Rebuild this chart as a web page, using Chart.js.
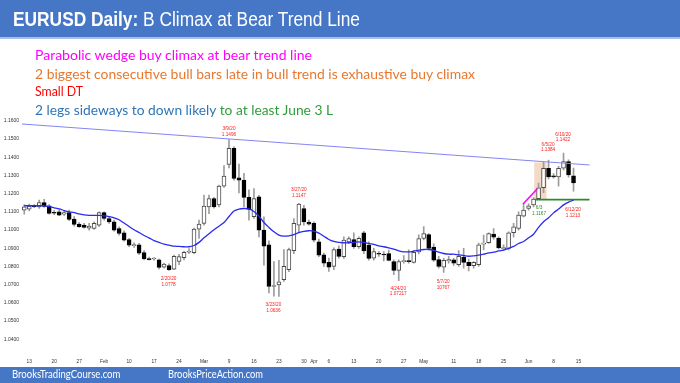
<!DOCTYPE html>
<html>
<head>
<meta charset="utf-8">
<script src="https://cdn.jsdelivr.net/npm/chart.js@4.4.1/dist/chart.umd.min.js"></script>
<style>
html,body{margin:0;padding:0;background:#fff;}
#wrap{position:relative;width:680px;height:383px;overflow:hidden;background:#fff;}
#chart{position:absolute;left:0;top:0;}
#titlebar{position:absolute;left:0;top:0;width:680px;height:37px;background:#4677C6;border-bottom:2px solid #A9BFE6;}
#footbar{position:absolute;left:0;top:367px;width:680px;height:16px;background:#4677C6;}
.t{position:absolute;white-space:nowrap;transform-origin:0 0;line-height:1;}
</style>
</head>
<body>
<div id="wrap">
  <div id="titlebar"></div>
  <div id="footbar"></div>
  <canvas id="chart" width="680" height="383"></canvas>
  <div class="t" id="title" style="font-family:'Liberation Sans',Arial,sans-serif;font-size:19.5px;color:#fff;"><b>EURUSD Daily:</b> B Climax at Bear Trend Line</div>
  <div class="t" id="n1" style="font-family:Lato,sans-serif;font-size:13px;color:#FF00FF;">Parabolic wedge buy climax at bear trend line</div>
  <div class="t" id="n2" style="font-family:Lato,sans-serif;font-size:13px;color:#E8782F;">2 biggest consecutive bull bars late in bull trend is exhaustive buy climax</div>
  <div class="t" id="n3" style="font-family:Lato,sans-serif;font-size:13px;color:#FF0000;">Small DT</div>
  <div class="t" id="n4" style="font-family:Lato,sans-serif;font-size:13px;color:#2E75B6;">2 legs sideways to down likely<span style="color:#2F9E3A;"> to at least June 3 L</span></div>
  <div class="t" id="f1" style="font-family:Lato,sans-serif;font-size:10.6px;color:#fff;">BrooksTradingCourse.com</div>
  <div class="t" id="f2" style="font-family:Lato,sans-serif;font-size:10.6px;color:#fff;">BrooksPriceAction.com</div>
</div>
<script>
// ---- data ----
const dates = ["2020-01-10","2020-01-13","2020-01-14","2020-01-15","2020-01-16","2020-01-17","2020-01-20","2020-01-21","2020-01-22","2020-01-23","2020-01-24","2020-01-27","2020-01-28","2020-01-29","2020-01-30","2020-01-31","2020-02-03","2020-02-04","2020-02-05","2020-02-06","2020-02-07","2020-02-10","2020-02-11","2020-02-12","2020-02-13","2020-02-14","2020-02-17","2020-02-18","2020-02-19","2020-02-20","2020-02-21","2020-02-24","2020-02-25","2020-02-26","2020-02-27","2020-02-28","2020-03-02","2020-03-03","2020-03-04","2020-03-05","2020-03-06","2020-03-09","2020-03-10","2020-03-11","2020-03-12","2020-03-13","2020-03-16","2020-03-17","2020-03-18","2020-03-19","2020-03-20","2020-03-23","2020-03-24","2020-03-25","2020-03-26","2020-03-27","2020-03-30","2020-03-31","2020-04-01","2020-04-02","2020-04-03","2020-04-06","2020-04-07","2020-04-08","2020-04-09","2020-04-10","2020-04-13","2020-04-14","2020-04-15","2020-04-16","2020-04-17","2020-04-20","2020-04-21","2020-04-22","2020-04-23","2020-04-24","2020-04-27","2020-04-28","2020-04-29","2020-04-30","2020-05-01","2020-05-04","2020-05-05","2020-05-06","2020-05-07","2020-05-08","2020-05-11","2020-05-12","2020-05-13","2020-05-14","2020-05-15","2020-05-18","2020-05-19","2020-05-20","2020-05-21","2020-05-22","2020-05-25","2020-05-26","2020-05-27","2020-05-28","2020-05-29","2020-06-01","2020-06-02","2020-06-03","2020-06-04","2020-06-05","2020-06-08","2020-06-09","2020-06-10","2020-06-11","2020-06-12"];

const opens = [1.1109,1.1115,1.1134,1.1127,1.1150,1.1133,1.1095,1.1100,1.1087,1.1096,1.1060,1.1032,1.1027,1.1010,1.1008,1.1027,1.1095,1.1063,1.1045,1.1008,1.0985,1.0948,1.0914,1.0918,1.0876,1.0842,1.0841,1.0836,1.0796,1.0805,1.0785,1.0827,1.0848,1.0878,1.0875,1.1005,1.1036,1.1127,1.1173,1.1137,1.1241,1.1360,1.1448,1.1287,1.1274,1.1179,1.1073,1.1182,1.0999,1.0919,1.0690,1.0698,1.0727,1.0782,1.0887,1.1027,1.1118,1.1043,1.1036,1.0935,1.0864,1.0822,1.0800,1.0895,1.0853,1.0934,1.0948,1.0908,1.0985,1.0917,1.0845,1.0870,1.0866,1.0870,1.0827,1.0778,1.0826,1.0828,1.0822,1.0880,1.0954,1.0975,1.0906,1.0837,1.0796,1.0830,1.0836,1.0810,1.0851,1.0822,1.0804,1.0809,1.0922,1.0930,1.0978,1.0954,1.0898,1.0899,1.0985,1.1008,1.1076,1.1118,1.1137,1.1172,1.1232,1.1338,1.1298,1.1292,1.1340,1.1375,1.1298];
const highs = [1.1140,1.1142,1.1140,1.1164,1.1168,1.1140,1.1108,1.1111,1.1104,1.1109,1.1073,1.1041,1.1036,1.1036,1.1045,1.1100,1.1100,1.1073,1.1054,1.1017,1.0996,1.0954,1.0930,1.0927,1.0887,1.0851,1.0849,1.0840,1.0818,1.0814,1.0862,1.0867,1.0884,1.0898,1.1010,1.1054,1.1192,1.1192,1.1180,1.1247,1.1353,1.1496,1.1458,1.1362,1.1311,1.1220,1.1228,1.1191,1.1072,1.0940,1.0827,1.0833,1.0892,1.0901,1.1063,1.1147,1.1136,1.1054,1.1045,1.0950,1.0873,1.0846,1.0902,1.0913,1.0963,1.0963,1.0985,1.0963,1.0993,1.0935,1.0900,1.0882,1.0882,1.0890,1.0836,1.0836,1.0860,1.0891,1.0887,1.0973,1.1019,1.0981,1.0924,1.0855,1.0845,1.0855,1.0845,1.0887,1.0900,1.0841,1.0827,1.0928,1.0972,1.0985,1.1008,1.0963,1.0918,1.0990,1.1036,1.1100,1.1147,1.1143,1.1178,1.1257,1.1372,1.1384,1.1310,1.1350,1.1422,1.1385,1.1340];
const lows = [1.1087,1.1105,1.1122,1.1118,1.1124,1.1087,1.1084,1.1078,1.1080,1.1051,1.1021,1.1014,1.1010,1.0999,1.1003,1.1018,1.1054,1.1036,1.0993,1.0972,1.0939,1.0908,1.0905,1.0864,1.0836,1.0835,1.0834,1.0787,1.0791,1.0778,1.0782,1.0809,1.0836,1.0872,1.0870,1.0954,1.1027,1.1090,1.1120,1.1127,1.1234,1.1341,1.1274,1.1203,1.1128,1.1054,1.1064,1.0962,1.0807,1.0654,1.0637,1.0636,1.0718,1.0771,1.0870,1.0990,1.1027,1.1027,1.0935,1.0853,1.0800,1.0773,1.0782,1.0846,1.0844,1.0926,1.0899,1.0899,1.0870,1.0835,1.0835,1.0855,1.0830,1.0830,1.0755,1.0722,1.0818,1.0818,1.0818,1.0868,1.0946,1.0890,1.0827,1.0791,1.0767,1.0818,1.0805,1.0800,1.0791,1.0776,1.0791,1.0800,1.0890,1.0927,1.0950,1.0896,1.0890,1.0890,1.0960,1.0999,1.1072,1.1109,1.1127,1.1167,1.1205,1.1280,1.1285,1.1240,1.1330,1.1290,1.1213];
const closes = [1.1127,1.1131,1.1128,1.1151,1.1130,1.1091,1.1092,1.1082,1.1095,1.1058,1.1030,1.1018,1.1014,1.1022,1.1036,1.1095,1.1063,1.1045,1.0999,1.0981,1.0944,1.0917,1.0920,1.0873,1.0842,1.0837,1.0843,1.0795,1.0813,1.0782,1.0855,1.0854,1.0877,1.0882,1.1005,1.1032,1.1131,1.1173,1.1127,1.1241,1.1296,1.1448,1.1283,1.1274,1.1179,1.1113,1.1173,1.0999,1.0911,1.0690,1.0695,1.0716,1.0800,1.0892,1.1036,1.1142,1.1045,1.1032,1.0944,1.0862,1.0818,1.0796,1.0892,1.0855,1.0944,1.0953,1.0908,1.0954,1.0885,1.0844,1.0882,1.0867,1.0863,1.0833,1.0778,1.0827,1.0828,1.0826,1.0877,1.0953,1.0981,1.0899,1.0834,1.0800,1.0833,1.0838,1.0818,1.0855,1.0822,1.0804,1.0822,1.0919,1.0928,1.0981,1.0960,1.0902,1.0902,1.0985,1.1018,1.1082,1.1109,1.1133,1.1170,1.1232,1.1338,1.1292,1.1292,1.1338,1.1375,1.1302,1.1258];
const ema20 = [1.1133,1.1133,1.1133,1.1133,1.1133,1.1128,1.1122,1.1116,1.1107,1.1100,1.1096,1.1088,1.1083,1.1080,1.1080,1.1080,1.1078,1.1074,1.1067,1.1056,1.1038,1.1019,1.1001,1.0986,1.0970,1.0957,1.0942,1.0932,1.0922,1.0917,1.0911,1.0910,1.0908,1.0908,1.0915,1.0932,1.0957,1.0979,1.1001,1.1021,1.1041,1.1074,1.1104,1.1115,1.1118,1.1116,1.1102,1.1076,1.1041,1.1014,1.0990,1.0972,1.0966,1.0968,1.0975,1.0985,1.0992,1.0996,1.0994,1.0983,1.0966,1.0948,1.0937,1.0932,1.0930,1.0930,1.0932,1.0935,1.0932,1.0926,1.0921,1.0913,1.0908,1.0902,1.0895,1.0886,1.0880,1.0880,1.0884,1.0889,1.0893,1.0893,1.0888,1.0878,1.0871,1.0867,1.0867,1.0863,1.0860,1.0856,1.0858,1.0862,1.0867,1.0874,1.0878,1.0885,1.0890,1.0899,1.0910,1.0926,1.0937,1.0957,1.0977,1.1014,1.1045,1.1067,1.1094,1.1115,1.1138,1.1153,1.1164];

// bear trend line, wedge line, June 3 low line (index, price)
const trendLine = [[-0.45,1.1582],[113.2,1.1357]];
const wedgeLine = [[99.9,1.1143],[102.7,1.1225]];
const june3Line = [[102.3,1.1167],[113.2,1.1167]];
const climaxBox = {from:1.1167, to:1.1369, center:103.37};

const yTicks = [1.04,1.05,1.06,1.07,1.08,1.09,1.10,1.11,1.12,1.13,1.14,1.15,1.16];
const xTickPos = [1,6,11,16,21,26,31,36,41,46,51,56,58,61,66,71,76,80,86,91,96,101,106,111];
const xTickLabels = ["13","20","27","Feb","10","17","24","Mar","9","16","23","30","Apr","6","13","20","27","May","11","18","25","Jun","8","15"];

const notes = [
  {lines:["3/9/20","1.1496"], i:41, p:1.1554, color:"#FF1A1A"},
  {lines:["3/27/20","1.1147"], i:55, p:1.1220, color:"#FF1A1A"},
  {lines:["3/23/20","1.0636"], i:49.9, p:1.0588, color:"#FF1A1A"},
  {lines:["2/20/20","1.0778"], i:28.9, p:1.0731, color:"#FF1A1A"},
  {lines:["4/24/20","1.07217"], i:74.9, p:1.0680, color:"#FF1A1A"},
  {lines:["5/7/20","10767"], i:83.9, p:1.0716, color:"#FF1A1A"},
  {lines:["6/5/20","1.1384"], i:104.9, p:1.1470, color:"#FF1A1A"},
  {lines:["6/10/20","1.1422"], i:107.9, p:1.1525, color:"#FF1A1A"},
  {lines:["6/3","1.1167"], i:103.1, p:1.1122, color:"#2E8B2E"},
  {lines:["6/12/20","1.1213"], i:109.9, p:1.1110, color:"#FF1A1A"}
];

// ---- build datasets ----
const bodies = opens.map((o,i)=>({x:i, y:[o, closes[i]]}));
const wicks = lows.map((l,i)=>({x:i, y:[l, highs[i]]}));
const bull = opens.map((o,i)=>closes[i] >= o);
const emaPts = ema20.map((v,i)=>({x:i, y:v}));
const toPts = a => a.map(p=>({x:p[0], y:p[1]}));

const notesPlugin = {
  id:'notes',
  afterDatasetsDraw(chart){
    const {ctx, scales:{x, y}} = chart;
    ctx.save();
    ctx.font = '4.7px "Liberation Sans", Arial, sans-serif';
    ctx.textAlign = 'center';
    ctx.textBaseline = 'middle';
    notes.forEach(n=>{
      ctx.fillStyle = n.color;
      const px = x.getPixelForValue(n.i), py = y.getPixelForValue(n.p);
      n.lines.forEach((t,k)=>ctx.fillText(t, px, py + k*5.7));
    });
    ctx.restore();
  }
};

new Chart(document.getElementById('chart'), {
  type:'bar',
  data:{datasets:[
    {type:'line', data:emaPts, borderColor:'#2A2AF0', borderWidth:1.3, pointRadius:0, tension:0.3, order:0},
    {type:'line', data:toPts(trendLine), borderColor:'#8484F4', borderWidth:1, pointRadius:0, order:0},
    {type:'line', data:toPts(wedgeLine), borderColor:'#FF00FF', borderWidth:1.6, pointRadius:0, order:0},
    {type:'line', data:toPts(june3Line), borderColor:'#2B8A2B', borderWidth:1.8, pointRadius:0, order:0},
    {data:bodies, backgroundColor:bull.map(b=>b?'#FFFFFF':'#000000'), borderColor:bull.map(b=>b?'#4A4A4A':'#000000'),
      borderWidth:1, borderSkipped:false, barThickness:4, minBarLength:1, grouped:false, order:1},
    {data:wicks, backgroundColor:'#9C9C9C', borderWidth:0, barThickness:1, grouped:false, order:2},
    {data:[{x:climaxBox.center, y:[climaxBox.from, climaxBox.to]}], backgroundColor:'rgba(238,196,166,0.65)', borderWidth:0,
      barThickness:11.7, grouped:false, order:3}
  ]},
  options:{
    responsive:false, animation:false, devicePixelRatio:1,
    layout:{padding:{top:111.6, bottom:14.6, left:0, right:90}},
    plugins:{legend:{display:false}, tooltip:{enabled:false}},
    scales:{
      x:{type:'linear', min:-0.45, max:113.3, offset:false,
        grid:{display:false, drawTicks:false}, border:{display:false},
        afterBuildTicks:s=>{s.ticks = xTickPos.map(v=>({value:v}));},
        afterFit:s=>{s.height = 20;},
        ticks:{autoSkip:false, maxRotation:0, padding:10, color:'#333',
          font:{family:'"Liberation Sans", Arial, sans-serif', size:4.8},
          callback:v=>xTickLabels[xTickPos.indexOf(v)]}},
      y:{type:'linear', min:1.035, max:1.165,
        grid:{display:false, drawTicks:false}, border:{display:false},
        afterBuildTicks:s=>{s.ticks = yTicks.map(v=>({value:v}));},
        afterFit:s=>{s.width = 22;},
        ticks:{padding:3, color:'#333',
          font:{family:'"Liberation Sans", Arial, sans-serif', size:5},
          callback:v=>v.toFixed(4)}}
    }
  },
  plugins:[notesPlugin]
});

// ---- text placement (left, cap-centre y, target width, cap-centre ratio) ----
const textBoxes = [
  ['title', 12.7, 19.7, 347, 0.488],
  ['n1', 35, 56.2, 277, 0.53],
  ['n2', 35, 75, 440, 0.53],
  ['n3', 35, 91.8, 48, 0.53],
  ['n4', 35, 111.2, 298, 0.53],
  ['f1', 12.3, 374.5, 108.4, 0.53],
  ['f2', 168.3, 374.5, 95, 0.53]
];
function placeTexts(){
  textBoxes.forEach(([id,l,cy,w,r])=>{
    const el = document.getElementById(id);
    el.style.transform = 'none';
    const fs = parseFloat(el.style.fontSize);
    const bw = el.getBoundingClientRect().width;
    el.style.left = l + 'px';
    el.style.top = (cy - r*fs) + 'px';
    el.style.transform = 'scaleX(' + (w/bw) + ')';
  });
}
placeTexts();
if (document.fonts && document.fonts.ready) document.fonts.ready.then(placeTexts);
</script>
</body>
</html>
